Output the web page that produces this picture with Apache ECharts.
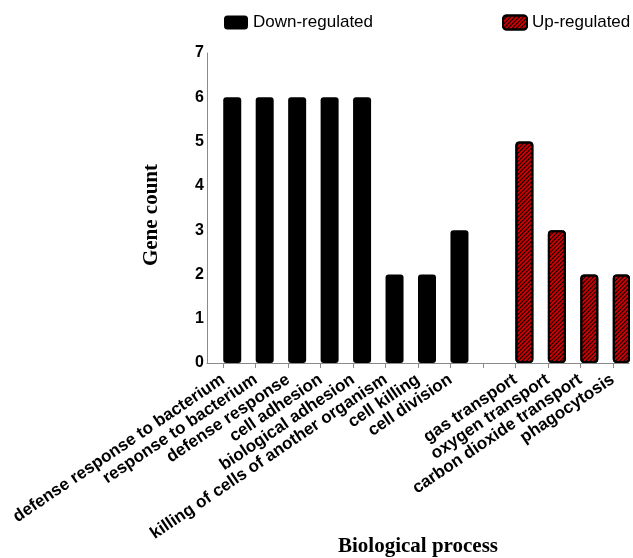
<!DOCTYPE html>
<html>
<head>
<meta charset="utf-8">
<script src="https://cdn.jsdelivr.net/npm/echarts@6/dist/echarts.min.js"></script>
<style>html,body{margin:0;padding:0;background:#fff}#c{width:633px;height:558px}</style>
</head>
<body>
<div id="c"></div>
<script>
const categories = ['defense response to bacterium','response to bacterium','defense response','cell adhesion','biological adhesion','killing of cells of another organism','cell killing','cell division','','gas transport','oxygen transport','carbon dioxide transport','phagocytosis'];
const downValues = [6,6,6,6,6,2,2,3,null,null,null,null,null];
const upValues = [null,null,null,null,null,null,null,null,null,5,3,2,2];
const yTicks = [0,1,2,3,4,5,6,7];

const chart = echarts.init(document.getElementById('c'), null, {renderer:'canvas'});
const hatch = {symbol:'rect', symbolSize:1, dashArrayX:[1,0], dashArrayY:[1,2], rotation:-Math.PI/4, color:'#000000'};
const spacer = categories.map(function(){return null;});
chart.setOption({
  animation:false,
  backgroundColor:'#ffffff',
  legend:[
    {data:['Down-regulated'], left:219, top:9, itemWidth:24, itemHeight:14, itemGap:10,
     textStyle:{fontFamily:'Liberation Sans', fontSize:17, color:'#000'}},
    {data:['Up-regulated'], left:497, top:9, itemWidth:24, itemHeight:14,
     textStyle:{fontFamily:'Liberation Sans', fontSize:17, color:'#000'}}
  ],
  grid:{left:207, top:53, right:4, bottom:195, containLabel:false, outerBoundsMode:'none'},
  xAxis:{
    type:'category', data:categories,
    name:'Biological process', nameLocation:'middle', nameGap:173, nameMoveOverlap:false,
    nameTextStyle:{fontFamily:'Liberation Serif', fontWeight:'bold', fontSize:21, color:'#000'},
    axisLine:{show:true, lineStyle:{color:'#8a8a8a', width:1}},
    axisTick:{show:true, alignWithLabel:true, length:5, lineStyle:{color:'#8a8a8a'}},
    axisLabel:{rotate:34, margin:15, interval:0, fontFamily:'Liberation Sans', fontWeight:'bold', fontSize:17, color:'#000'}
  },
  yAxis:{
    type:'value', min:0, max:7, interval:1,
    name:'Gene count', nameLocation:'middle', nameGap:45, nameRotate:90, nameMoveOverlap:false,
    nameTextStyle:{fontFamily:'Liberation Serif', fontWeight:'bold', fontSize:21, color:'#000', padding:[0,14,0,0]},
    axisLine:{show:true, lineStyle:{color:'#8a8a8a', width:1}},
    axisTick:{show:false},
    splitLine:{show:false},
    axisLabel:{margin:3, fontFamily:'Liberation Sans', fontWeight:'bold', fontSize:16, color:'#000',
      formatter:function(v){return yTicks.indexOf(v)>=0 ? String(v) : '';}}
  },
  series:[
    {name:'spacer', type:'bar', data:spacer, barWidth:18, barGap:'0%', silent:true,
     itemStyle:{color:'rgba(0,0,0,0)'}},
    {name:'Down-regulated', type:'bar', stack:'g', data:downValues, barWidth:18, barGap:'0%',
     itemStyle:{color:'#000000', borderRadius:3}},
    {name:'Up-regulated', type:'bar', stack:'g', data:upValues, barWidth:18, barGap:'0%',
     itemStyle:{color:'#cc0000', borderColor:'#000000', borderWidth:2, borderRadius:3, decal:hatch}}
  ]
});
</script>
</body>
</html>
